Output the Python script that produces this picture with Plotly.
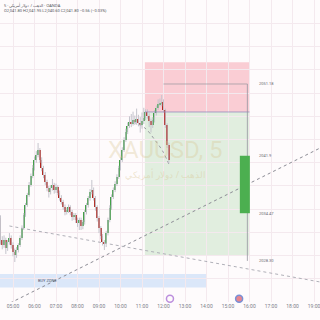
import plotly.graph_objects as go
import pandas as pd

# ---------------- data ----------------
start_time = "2024-03-01 04:25"
opens = [2033.85, 2031.01, 2030.36, 2031.01, 2029.97, 2030.75, 2031.27, 2030.36, 2029.46, 2029.07,
         2029.71, 2030.36, 2031.27, 2032.56, 2034.24, 2035.53, 2036.83, 2038.12, 2039.28, 2040.32,
         2041.35, 2042.00, 2042.64, 2041.35, 2040.32, 2039.41, 2038.51, 2037.73, 2037.21, 2037.73,
         2038.12, 2037.47, 2037.86, 2037.09, 2036.44, 2035.92, 2035.27, 2034.63, 2034.89, 2035.27,
         2034.63, 2033.98, 2034.24, 2033.59, 2033.21, 2033.59, 2032.82, 2033.34, 2034.63, 2035.53,
         2036.44, 2037.21, 2037.47, 2036.44, 2035.27, 2033.85, 2032.56, 2031.53, 2030.75, 2030.49,
         2031.91, 2033.59, 2035.15, 2036.57, 2037.47, 2038.25, 2039.15, 2040.32, 2041.35, 2042.64,
         2043.94, 2044.97, 2045.75, 2046.27, 2046.01, 2046.52, 2046.27, 2046.65, 2046.14, 2045.88,
         2046.39, 2046.78, 2047.56, 2047.04, 2046.39, 2045.88, 2046.52, 2047.43, 2048.08, 2048.59,
         2048.72, 2048.85, 2047.82, 2045.88, 2043.29]
highs = [2034.20, 2031.50, 2031.60, 2031.30, 2031.00, 2031.90, 2031.60, 2030.70, 2029.90, 2030.10,
         2030.60, 2031.60, 2032.90, 2034.50, 2035.80, 2037.10, 2038.50, 2039.60, 2040.70, 2041.80,
         2042.50, 2043.55, 2042.90, 2041.70, 2040.60, 2039.80, 2038.80, 2038.00, 2038.10, 2038.90,
         2038.40, 2038.30, 2038.10, 2037.40, 2036.80, 2036.20, 2035.60, 2035.20, 2035.60, 2035.50,
         2034.90, 2034.50, 2034.50, 2033.90, 2033.90, 2033.90, 2033.60, 2034.90, 2035.80, 2036.70,
         2037.60, 2038.77, 2037.80, 2036.70, 2035.50, 2034.10, 2032.80, 2031.80, 2031.00, 2032.20,
         2033.90, 2035.50, 2036.90, 2037.80, 2038.60, 2039.50, 2040.60, 2041.70, 2043.00, 2044.30,
         2045.40, 2046.20, 2047.00, 2047.30, 2047.60, 2047.10, 2048.00, 2047.20, 2046.90, 2047.50,
         2048.10, 2047.90, 2047.90, 2047.40, 2046.70, 2046.90, 2047.80, 2048.40, 2049.20, 2049.30,
         2049.76, 2049.20, 2048.00, 2046.10, 2043.60]
lows = [2030.40, 2029.80, 2030.00, 2029.20, 2029.60, 2030.40, 2029.90, 2028.90, 2028.16, 2028.70,
        2029.40, 2030.10, 2031.00, 2032.30, 2034.00, 2035.30, 2036.60, 2037.90, 2039.00, 2040.00,
        2041.00, 2041.70, 2041.00, 2039.90, 2039.00, 2038.10, 2037.30, 2036.50, 2036.90, 2037.40,
        2037.00, 2037.10, 2036.80, 2036.10, 2035.60, 2034.90, 2034.20, 2034.30, 2034.50, 2034.20,
        2033.50, 2033.60, 2033.20, 2032.70, 2032.30, 2032.30, 2032.40, 2033.00, 2034.30, 2035.20,
        2036.10, 2036.90, 2036.10, 2034.80, 2033.40, 2031.90, 2031.10, 2030.30, 2029.71, 2030.10,
        2031.60, 2033.30, 2034.90, 2036.30, 2037.20, 2038.00, 2038.90, 2040.00, 2041.10, 2042.40,
        2043.70, 2044.70, 2045.50, 2045.60, 2045.80, 2045.90, 2045.90, 2045.70, 2044.90, 2045.40,
        2046.00, 2046.50, 2046.70, 2045.60, 2044.90, 2045.50, 2046.20, 2047.10, 2047.80, 2048.30,
        2048.30, 2047.50, 2045.50, 2042.90, 2040.90]
closes = [2031.01, 2030.36, 2031.01, 2029.97, 2030.75, 2031.27, 2030.36, 2029.46, 2029.07, 2029.71,
          2030.36, 2031.27, 2032.56, 2034.24, 2035.53, 2036.83, 2038.12, 2039.28, 2040.32, 2041.35,
          2042.00, 2042.64, 2041.35, 2040.32, 2039.41, 2038.51, 2037.73, 2037.21, 2037.73, 2038.12,
          2037.47, 2037.86, 2037.09, 2036.44, 2035.92, 2035.27, 2034.63, 2034.89, 2035.27, 2034.63,
          2033.98, 2034.24, 2033.59, 2033.21, 2033.59, 2032.82, 2033.34, 2034.63, 2035.53, 2036.44,
          2037.21, 2037.47, 2036.44, 2035.27, 2033.85, 2032.56, 2031.53, 2030.75, 2030.49, 2031.91,
          2033.59, 2035.15, 2036.57, 2037.47, 2038.25, 2039.15, 2040.32, 2041.35, 2042.64, 2043.94,
          2044.97, 2045.75, 2046.27, 2046.01, 2046.52, 2046.27, 2046.65, 2046.14, 2045.88, 2046.39,
          2046.78, 2047.56, 2047.04, 2046.39, 2045.88, 2046.52, 2047.43, 2048.08, 2048.59, 2048.72,
          2048.85, 2047.82, 2045.88, 2043.29, 2041.35]

# long position tool
position_times = ["2024-03-01 11:08", "2024-03-01 16:00"]
position_levels = {"stop": 2054.00, "entry": 2047.56, "target": 2029.07}
# projected range / candle
range_line_times = ["2024-03-01 12:00", "2024-03-01 15:54"]
proj_body_times = ["2024-03-01 15:33", "2024-03-01 16:01"]
proj_levels = [2051.18, 2041.90, 2034.47, 2028.30]
proj_labels = ["2051.18", "2041.9", "2034.47", "2028.30"]
# buy zone
buy_zone_times = ["2024-03-01 04:00", "2024-03-01 14:01"]
buy_zone_prices = [2024.86, 2026.61]
# trend lines
rising_line_t = ["2024-03-01 04:52", "2024-03-01 19:17"]
rising_line_p = [2022.86, 2042.90]
falling_line_t = ["2024-03-01 04:50", "2024-03-01 19:17"]
falling_line_p = [2032.82, 2025.58]
arc_t = ["2024-03-01 10:35", "2024-03-01 11:08", "2024-03-01 11:36", "2024-03-01 11:59", "2024-03-01 12:18"]
arc_p = [2046.27, 2045.49, 2043.94, 2042.39, 2040.45]
# event icons
event_t = ["2024-03-01 12:18", "2024-03-01 15:31"]

x_range = ["2024-03-01 04:23:42", "2024-03-01 19:16:42"]
y_range = [2022.99, 2062.04]

# ---------------- figure ----------------
times = pd.date_range(start_time, periods=len(closes), freq="5min")
GREEN = "#43a047"
RED = "#b3261e"
body_base = [min(o, c) for o, c in zip(opens, closes)]
body_h = [max(abs(c - o), 0.08) for o, c in zip(opens, closes)]
body_col = [GREEN if c >= o else RED for o, c in zip(opens, closes)]

wick_x, wick_y = [], []
for t, h, l in zip(times, highs, lows):
    wick_x += [t, t, None]
    wick_y += [l, h, None]

fig = go.Figure()

# zones as shapes (below traces)
fig.add_shape(type="rect", x0=position_times[0], x1=position_times[1],
              y0=position_levels["entry"], y1=position_levels["stop"],
              fillcolor="rgba(242,100,120,0.30)", line_width=0, layer="below")
fig.add_shape(type="rect", x0=position_times[0], x1=position_times[1],
              y0=position_levels["target"], y1=position_levels["entry"],
              fillcolor="rgba(110,190,110,0.20)", line_width=0, layer="below")
fig.add_shape(type="line", x0=position_times[0], x1=position_times[1],
              y0=position_levels["entry"], y1=position_levels["entry"],
              line=dict(color="rgba(150,140,190,0.8)", width=1))
fig.add_shape(type="rect", x0=buy_zone_times[0], x1=buy_zone_times[1],
              y0=buy_zone_prices[0], y1=buy_zone_prices[1],
              fillcolor="rgba(190,215,245,0.55)", line_width=0, layer="below")

# range outline + projected candle
fig.add_shape(type="line", x0=range_line_times[0], x1=range_line_times[1],
              y0=proj_levels[0], y1=proj_levels[0],
              line=dict(color="rgba(150,150,160,0.7)", width=1))
fig.add_shape(type="line", x0=range_line_times[1], x1=range_line_times[1],
              y0=proj_levels[0], y1=proj_levels[3],
              line=dict(color="rgba(150,150,160,0.8)", width=1))
fig.add_shape(type="rect", x0=proj_body_times[0], x1=proj_body_times[1],
              y0=proj_levels[2], y1=proj_levels[1],
              fillcolor="#4caf50", line=dict(color="#4caf50", width=0))

# trend lines
fig.add_trace(go.Scatter(x=rising_line_t, y=rising_line_p, mode="lines",
                         line=dict(color="#8c8c95", width=1, dash="dot"), hoverinfo="skip"))
fig.add_trace(go.Scatter(x=falling_line_t, y=falling_line_p, mode="lines",
                         line=dict(color="#b0b0b8", width=1, dash="dot"), hoverinfo="skip"))
fig.add_trace(go.Scatter(x=arc_t, y=arc_p, mode="lines", line_shape="spline",
                         line=dict(color="#9a9aa2", width=1, dash="dot"), hoverinfo="skip"))

# wicks
fig.add_trace(go.Scatter(x=wick_x, y=wick_y, mode="lines", line=dict(color="#c4c4cc", width=1),
                         hoverinfo="skip", connectgaps=False))
# bodies
fig.add_trace(go.Bar(x=times, y=body_h, base=body_base, marker=dict(color=body_col, line_width=0),
                     width=5 * 60 * 1000 * 0.8, hoverinfo="skip"))

# event icons
fig.add_trace(go.Scatter(x=event_t, y=[2023.4, 2023.4], mode="markers", cliponaxis=False,
                         marker=dict(size=[7, 7], symbol=["circle-open", "circle"],
                                     color=["#a060d0", "#e05560"],
                                     line=dict(color=["#a060d0", "#3f63c8"], width=1.5)),
                         hoverinfo="skip"))

# price labels
for lvl, lab in zip(proj_levels, proj_labels):
    fig.add_annotation(x="2024-03-01 16:22", y=lvl, text=lab, showarrow=False,
                       font=dict(size=4, color="#6a6a72", family="Roboto"), xanchor="left")

# watermark
fig.add_annotation(x="2024-03-01 12:05", y=2042.6, text="XAUUSD, 5", showarrow=False,
                   font=dict(size=24, color="rgba(215,195,140,0.32)", family="Roboto"))
fig.add_annotation(x="2024-03-01 12:05", y=2039.5, text="الذهب / دولار أمريكي", showarrow=False,
                   font=dict(size=9, color="rgba(215,195,140,0.40)", family="Noto Sans"))
fig.add_annotation(x="2024-03-01 06:35", y=(buy_zone_prices[0] + buy_zone_prices[1]) / 2,
                   text="BUY ZONE", showarrow=False,
                   font=dict(size=4, color="#50546a", family="Roboto"))

# header
fig.add_annotation(xref="paper", yref="paper", x=0.005, y=0.985, xanchor="left", yanchor="middle",
                   text="الذهب / دولار أمريكي · 5 · OANDA", showarrow=False,
                   font=dict(size=4, color="#555860", family="Noto Sans"))
fig.add_annotation(xref="paper", yref="paper", x=0.005, y=0.965, xanchor="left", yanchor="middle",
                   text="O2,041.80 H2,041.95 L2,040.60 C2,041.80 −0.56 (−0.03%)", showarrow=False,
                   font=dict(size=4, color="#555860", family="Roboto"))

fig.update_layout(
    width=320, height=320, margin=dict(l=0, r=0, t=0, b=18),
    paper_bgcolor="#fefbfc", plot_bgcolor="#fefbfc",
    showlegend=False, bargap=0,
    xaxis=dict(type="date", range=x_range, tickformat="%H:%M", dtick=3600000,
               tick0="2024-03-01 05:00", showgrid=True, gridcolor="#f4e9ee", gridwidth=1,
               zeroline=False, showline=False, ticks="", ticklabeloverflow="allow",
               tickfont=dict(size=5, color="#7d808a", family="Roboto")),
    yaxis=dict(range=y_range, showticklabels=False, showgrid=True, gridcolor="#f4e9ee",
               dtick=3, tick0=2023, zeroline=False, showline=False),
)

fig.write_html("out.html")
